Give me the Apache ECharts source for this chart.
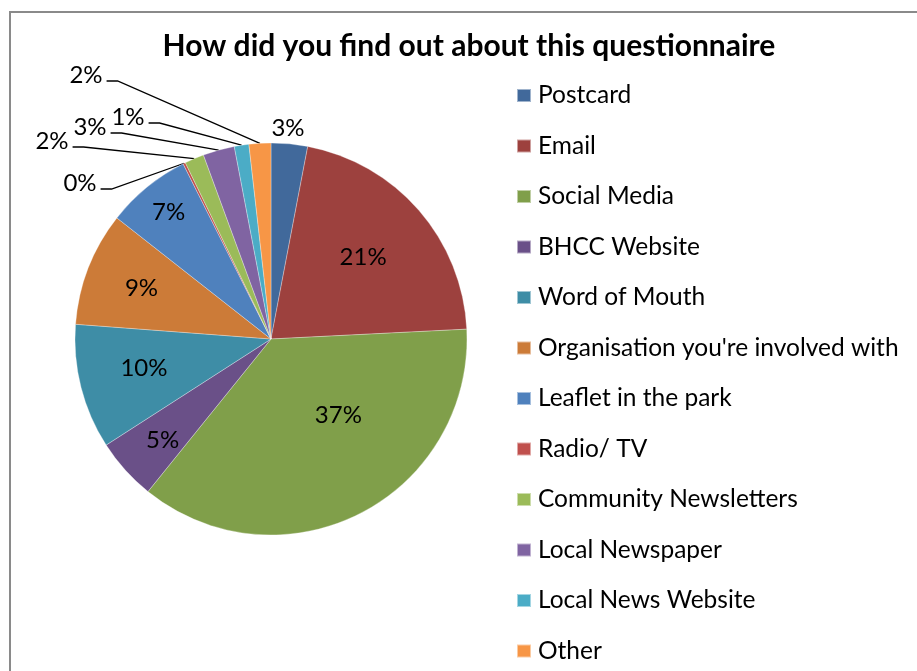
<!DOCTYPE html>
<html>
<head>
<meta charset="utf-8">
<title>How did you find out about this questionnaire</title>
<script src="https://cdn.jsdelivr.net/npm/echarts@6/dist/echarts.min.js"></script>
<style>
  html, body { margin: 0; padding: 0; background: #fff; }
  #chart { width: 917px; height: 671px; }
</style>
</head>
<body>
<div id="chart"></div>
<script>
// Survey answers: where respondents heard about the questionnaire (share of responses, %)
const categories = [
  'Postcard', 'Email', 'Social Media', 'BHCC Website', 'Word of Mouth',
  'Organisation you\'re involved with', 'Leaflet in the park', 'Radio/ TV',
  'Community Newsletters', 'Local Newspaper', 'Local News Website', 'Other'
];
const shares = [3.0, 21.2, 36.6, 5.1, 10.3, 9.4, 7.0, 0.2, 1.6, 2.6, 1.2, 1.8];

const sliceColors = [
  '#41699B', '#9D413E', '#809F4A', '#6A5088', '#3E8DA6', '#CC7B38',
  '#4F81BD', '#C0504D', '#9BBB59', '#8064A2', '#4BACC6', '#F79646'
];

// Pie geometry
const CX = 271, CY = 339, R = 196;
const FONT = 'Lato, "Open Sans", sans-serif';

// Label placement: inside labels sit at a fraction of the radius (with a small
// angular nudge); the thin slices get callout labels stacked to the upper left.
const labelPlacement = [
  { frac: 1.08, nudge: -0.8 },
  { frac: 0.63, nudge: -0.7 },
  { frac: 0.52, nudge: -14.4 },
  { frac: 0.755, nudge: -1 },
  { frac: 0.665, nudge: 1.3 },
  { frac: 0.71, nudge: 0.2 },
  { frac: 0.83, nudge: 0.2 },
  { spot: [80, 183] },
  { spot: [52, 141] },
  { spot: [90, 127] },
  { spot: [128, 117] },
  { spot: [86, 75] }
];

const total = shares.reduce((a, b) => a + b, 0);
const midAngles = [];
let acc = 0;
shares.forEach(v => {
  midAngles.push((acc + v / 2) / total * 360);
  acc += v;
});

function polar(deg, r) {
  const t = deg * Math.PI / 180;
  return [CX + r * Math.sin(t), CY - r * Math.cos(t)];
}

const pieData = categories.map((name, i) => {
  const callout = !!labelPlacement[i].spot;
  return {
    name: name,
    value: shares[i],
    itemStyle: { color: sliceColors[i] },
    label: { position: (callout || i === 0) ? 'outside' : 'inside' },
    labelLine: { show: callout }
  };
});

const chart = echarts.init(document.getElementById('chart'), null, { renderer: 'canvas' });

chart.setOption({
  backgroundColor: '#ffffff',
  animation: false,
  title: {
    text: 'How did you find out about this questionnaire',
    left: 464,
    top: 26,
    textAlign: 'center',
    textStyle: { fontFamily: FONT, fontWeight: 'bold', fontSize: 30, color: '#000' }
  },
  legend: {
    orient: 'vertical',
    left: 516,
    top: 82.5,
    padding: 0,
    itemGap: 24.5,
    itemWidth: 14,
    itemHeight: 13,
    icon: 'rect',
    selectedMode: false,
    data: categories,
    textStyle: { fontFamily: FONT, fontSize: 24.5, color: '#000', lineHeight: 26, padding: [0, 0, 0, 2] }
  },
  graphic: [{
    type: 'rect',
    silent: true,
    z: -1,
    shape: { x: 10, y: 12, width: 940, height: 700 },
    style: { fill: null, stroke: '#8a8a8a', lineWidth: 2 }
  }],
  series: [{
    type: 'pie',
    center: [CX, CY],
    radius: R,
    startAngle: 90,
    clockwise: true,
    avoidLabelOverlap: false,
    data: pieData,
    itemStyle: { borderColor: 'rgba(255,255,255,0.5)', borderWidth: 0.6 },
    label: {
      show: true,
      fontFamily: FONT,
      fontSize: 24,
      color: '#000',
      formatter: p => Math.round(p.value / total * 100) + '%'
    },
    labelLine: {
      show: false,
      length: 10,
      length2: 10,
      lineStyle: { color: '#000', width: 1.3 }
    },
    emphasis: { disabled: true },
    labelLayout: function (params) {
      const i = params.dataIndex;
      const p = labelPlacement[i];
      if (p.spot) {
        const [x, y] = p.spot;
        const half = params.labelRect.width / 2;
        const right = x + half + 4;
        const ly = y + 6;
        return {
          x: x, y: y, align: 'center', verticalAlign: 'middle',
          labelLinePoints: [polar(midAngles[i], R), [right + 11, ly], [right, ly]]
        };
      }
      const pt = polar(midAngles[i] + p.nudge, R * p.frac);
      return { x: pt[0], y: pt[1], align: 'center', verticalAlign: 'middle' };
    }
  }]
});
</script>
</body>
</html>
